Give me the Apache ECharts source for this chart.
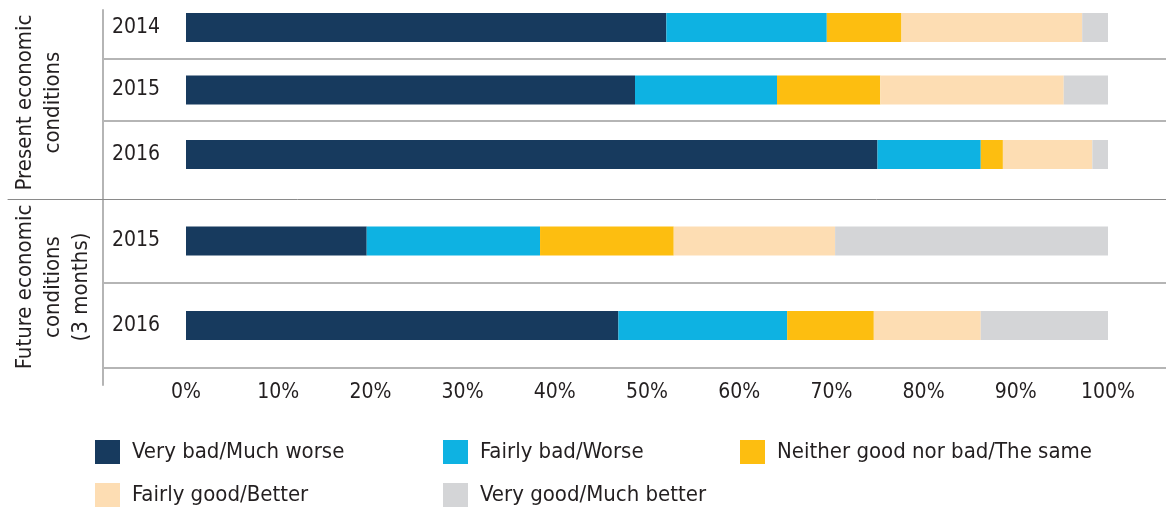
<!DOCTYPE html>
<html>
<head>
<meta charset="utf-8">
<script src="https://cdn.jsdelivr.net/npm/echarts@6/dist/echarts.min.js"></script>
<style>
html,body{margin:0;padding:0;background:#fff;}
#chart{width:1166px;height:514px;}
</style>
</head>
<body>
<div id="chart"></div>
<script>
// ---- data ----
const rowYears = ['2014', '2015', '2016', '2015', '2016'];
const groupNames = ['Present economic\nconditions', 'Future economic\nconditions\n(3 months)'];
const seriesNames = ['Very bad/Much worse', 'Fairly bad/Worse', 'Neither good nor bad/The same', 'Fairly good/Better', 'Very good/Much better'];
const veryBad    = [52.1, 48.7, 75.0, 19.6, 46.9];
const fairlyBad  = [17.4, 15.4, 11.2, 18.8, 18.3];
const neither    = [8.1, 11.2, 2.4, 14.5, 9.4];
const fairlyGood = [19.6, 19.9, 9.7, 17.5, 11.6];
const veryGood   = [2.8, 4.8, 1.7, 29.6, 13.8];
const xTicks = [0, 10, 20, 30, 40, 50, 60, 70, 80, 90, 100];

const values = [veryBad, fairlyBad, neither, fairlyGood, veryGood];
const colors = ['#173a5e', '#0eb2e2', '#fdbe10', '#fdddb3', '#d4d5d7'];
const FONT = '"Liberation Sans Narrow", "DejaVu Sans Condensed", "Noto Sans", sans-serif';
const TXT = '#231f20';
const LIGHT = '#b5b5b5';

// value-axis extent: 0% at x=186, 100% at x=1108, grid right edge at 1166
const pxPerUnit = (1108 - 186) / 100;
const xMax = 100 + (1166 - 1108) / pxPerUnit;
const minFor = left => -(186 - left) / pxPerUnit;

const grids = [
  {left: 103, right: 0, top: -4, height: 63},   // 0: 2014
  {left: 103, right: 0, top: 59, height: 62},   // 1: 2015
  {left: 103, right: 0, top: 121, height: 67},  // 2: 2016
  {left: 8,   right: 0, top: 199, height: 84},  // 3: future 2015
  {left: 103, right: 0, top: 283, height: 85},  // 4: future 2016
  {left: 103, right: 0, top: 10, height: 375},  // 5: frame (vertical divider)
  {left: 103, right: 0, top: 6, height: 193},   // 6: present group name
  {left: 103, right: 0, top: 199, height: 176}  // 7: future group name
].map(g => Object.assign({outerBoundsMode: 'none', containLabel: false}, g));

function xAx(gridIndex, position, lineColor, lineWidth, showLabels) {
  return {
    type: 'value', gridIndex, position,
    min: minFor(grids[gridIndex].left), max: xMax,
    axisLine: {show: !!lineColor, onZero: false, lineStyle: {color: lineColor || LIGHT, width: lineWidth || 2}},
    axisTick: {show: false},
    splitLine: {show: false},
    axisLabel: showLabels ? {
      show: true, customValues: xTicks, formatter: '{value}%',
      fontFamily: FONT, fontSize: 21, color: TXT, margin: 14
    } : {show: false}
  };
}

const xAxis = [
  xAx(0, 'bottom', LIGHT, 2),
  xAx(1, 'bottom', LIGHT, 2),
  xAx(2, 'bottom', null),
  xAx(3, 'top', '#8a8a8a', 1),
  xAx(4, 'top', LIGHT, 2),
  xAx(4, 'bottom', LIGHT, 2, true),
  {type: 'value', gridIndex: 5, min: 0, max: 1, show: false},
  {type: 'value', gridIndex: 6, min: 0, max: 1, show: false},
  {type: 'value', gridIndex: 7, min: 0, max: 1, show: false}
];
const barXAxis = [0, 1, 2, 3, 5];

const yAxis = rowYears.map((y, i) => ({
  type: 'category', gridIndex: i, data: [y],
  offset: -(186 - grids[i].left),
  axisLine: {show: false, onZero: false},
  axisTick: {show: false},
  splitLine: {show: false},
  axisLabel: {fontFamily: FONT, fontSize: 21, color: TXT, margin: 26}
}));
yAxis.push({
  type: 'value', gridIndex: 5, min: 0, max: 1,
  axisLine: {show: true, onZero: false, lineStyle: {color: LIGHT, width: 2}},
  axisTick: {show: false}, axisLabel: {show: false}, splitLine: {show: false}
});
groupNames.forEach((n, gi) => {
  yAxis.push({
    type: 'value', gridIndex: 6 + gi, min: 0, max: 1,
    axisLine: {show: false, onZero: false}, axisTick: {show: false},
    axisLabel: {show: false}, splitLine: {show: false},
    name: n, nameLocation: 'middle', nameRotate: 90, nameGap: 92,
    nameTextStyle: {fontFamily: FONT, fontSize: 22, color: TXT, lineHeight: 28, verticalAlign: 'top', align: 'center'}
  });
});

const series = [];
rowYears.forEach((y, r) => {
  seriesNames.forEach((name, s) => {
    series.push({
      type: 'bar', name, stack: 'row' + r,
      xAxisIndex: barXAxis[r], yAxisIndex: r,
      barWidth: 29,
      itemStyle: {color: colors[s]},
      emphasis: {disabled: true},
      data: [values[s][r]]
    });
  });
});

const legendBase = {
  orient: 'vertical', top: 440, padding: 0, itemGap: 19,
  itemWidth: 25, itemHeight: 24, icon: 'rect',
  textStyle: {fontFamily: FONT, fontSize: 22, color: TXT, padding: [0, 0, 0, 7]},
  selectedMode: false
};
const legend = [
  Object.assign({}, legendBase, {left: 95, data: [seriesNames[0], seriesNames[3]]}),
  Object.assign({}, legendBase, {left: 443, data: [seriesNames[1], seriesNames[4]]}),
  Object.assign({}, legendBase, {left: 740, data: [seriesNames[2]]})
];

const chart = echarts.init(document.getElementById('chart'), null, {renderer: 'canvas'});
chart.setOption({
  animation: false,
  backgroundColor: '#fff',
  grid: grids,
  xAxis, yAxis, series, legend
});
</script>
</body>
</html>
